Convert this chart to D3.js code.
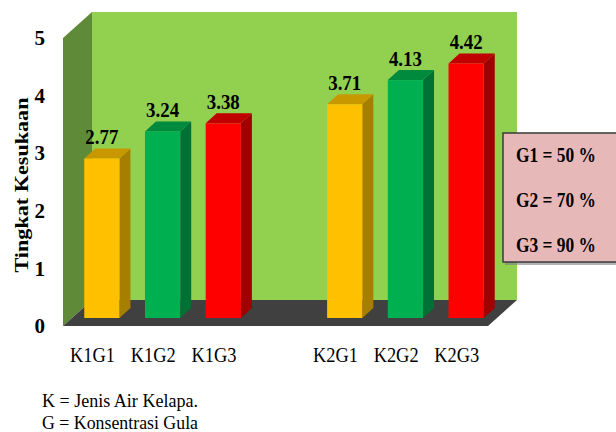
<!DOCTYPE html>
<html><head><meta charset="utf-8">
<script src="https://cdn.jsdelivr.net/npm/d3@7"></script>
<style>html,body{margin:0;padding:0;background:#fff;}svg{display:block;}</style>
</head><body>
<script>
const categories = ["K1G1","K1G2","K1G3","K2G1","K2G2","K2G3"];
const slots = ["K1G1","K1G2","K1G3","gap","K2G1","K2G2","K2G3"];
const values = [2.77, 3.24, 3.38, 3.71, 4.13, 4.42];
const groupOf = ["G1","G2","G3","G1","G2","G3"];
const yTicks = [0,1,2,3,4,5];
const legendLabels = ["G1 = 50 %","G2 = 70 %","G3 = 90 %"];
const footnotes = ["K = Jenis Air Kelapa.","G = Konsentrasi Gula"];
const yTitle = "Tingkat Kesukaan";

const colors = {
  G1:{front:"#FFC000", side:"#A67F00", top:"#C89800"},
  G2:{front:"#00B050", side:"#007135", top:"#008A3E"},
  G3:{front:"#FF0000", side:"#A00000", top:"#C00000"}
};

const W=616,H=432;
const svg=d3.select("body").append("svg").attr("width",W).attr("height",H);
const FONT="'Liberation Serif','Times New Roman',serif";

const x0=63,x1=488;
const depthX=29, depthY=-26;
const x=d3.scaleBand().domain(slots).range([x0,x1]).paddingInner(0.42).paddingOuter(0.21);
const y=d3.scaleLinear().domain([0,5]).range([326,38]);

// back wall
svg.append("polygon")
  .attr("points",[[x0+depthX,y(5)+depthY],[x1+depthX,y(5)+depthY],[x1+depthX,y(0)+depthY],[x0+depthX,y(0)+depthY]].join(" "))
  .attr("fill","#92D050");
// left wall
svg.append("polygon")
  .attr("points",[[x0,y(5)],[x0+depthX,y(5)+depthY],[x0+depthX,y(0)+depthY],[x0,y(0)]].join(" "))
  .attr("fill","#5F8A37");
// floor
svg.append("polygon")
  .attr("points",[[x0,y(0)],[x1,y(0)],[x1+depthX,y(0)+depthY],[x0+depthX,y(0)+depthY]].join(" "))
  .attr("fill","#404040");

// bars
const bOffX=8.5, bOffY=-8, bdx=11, bdy=-10;
const bw=x.bandwidth();
const bars=svg.append("g");
categories.forEach((c,i)=>{
  const col=colors[groupOf[i]];
  const xl=x(c)+bOffX, xr=xl+bw;
  const yb=y(0)+bOffY, yt=y(values[i])+bOffY;
  bars.append("polygon").attr("points",[[xr,yt],[xr+bdx,yt+bdy],[xr+bdx,yb+bdy],[xr,yb]].join(" ")).attr("fill",col.side);
  bars.append("polygon").attr("points",[[xl,yt],[xr,yt],[xr+bdx,yt+bdy],[xl+bdx,yt+bdy]].join(" ")).attr("fill",col.top);
  bars.append("rect").attr("x",xl).attr("y",yt).attr("width",bw).attr("height",yb-yt).attr("fill",col.front);
  bars.append("text").attr("x",xl+bw/2).attr("y",yt-14).attr("text-anchor","middle")
    .attr("font-family",FONT).attr("font-weight","bold").attr("font-size",21)
    .attr("textLength",33).attr("lengthAdjust","spacingAndGlyphs")
    .text(values[i].toFixed(2));
  svg.append("text").attr("x",x(c)+bw/2-0.8).attr("y",362).attr("text-anchor","middle")
    .attr("font-family",FONT).attr("font-size",21)
    .attr("textLength",45).attr("lengthAdjust","spacingAndGlyphs")
    .text(c);
});

// y axis
const ax=svg.append("g").attr("transform",`translate(${x0},0)`)
  .call(d3.axisLeft(y).tickValues(yTicks).tickFormat(d3.format("d")).tickSize(0).tickPadding(18));
ax.select(".domain").remove();
ax.selectAll("text").attr("font-family",FONT).attr("font-weight","bold").attr("font-size",21).attr("fill","#000");

// y title
svg.append("text").attr("transform","translate(28,185) rotate(-90)").attr("text-anchor","middle")
  .attr("font-family",FONT).attr("font-weight","bold").attr("font-size",19)
  .attr("textLength",175).attr("lengthAdjust","spacingAndGlyphs").text(yTitle);

// legend
const lg=svg.append("g");
lg.append("rect").attr("x",505).attr("y",135).attr("width",120).attr("height",130).attr("fill","#7f7f7f").attr("opacity",0.6);
lg.append("rect").attr("x",503).attr("y",133).attr("width",120).attr("height",129).attr("fill","#E6B9B8").attr("stroke","#3a3a3a").attr("stroke-width",1.5);
legendLabels.forEach((t,i)=>{
  lg.append("text").attr("x",516).attr("y",162+i*45)
    .attr("font-family",FONT).attr("font-weight","bold").attr("font-size",22)
    .attr("textLength",80).attr("lengthAdjust","spacingAndGlyphs").text(t);
});

// footnotes
footnotes.forEach((t,i)=>{
  svg.append("text").attr("x",42).attr("y",407+i*22)
    .attr("font-family",FONT).attr("font-size",18)
    .attr("textLength",156).attr("lengthAdjust","spacingAndGlyphs").text(t);
});
</script>
</body></html>
